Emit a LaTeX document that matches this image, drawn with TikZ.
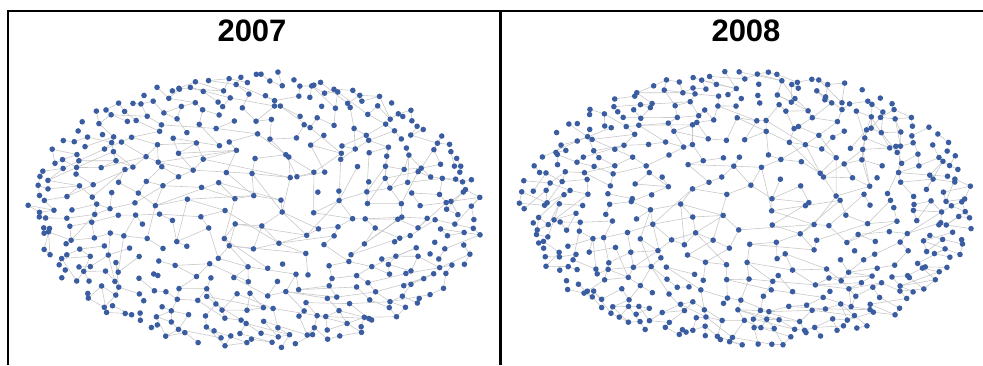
\documentclass[tikz,border=0pt]{standalone}
\usepackage{fontspec}
\setmainfont{Liberation Sans}
\definecolor{dotc}{RGB}{58,92,160}
\definecolor{edgec}{RGB}{200,200,200}
\tikzset{
  edge/.style={draw=edgec,line width=0.6pt},
  dot/.style={fill=dotc},
  frameline/.style={line width=2.2pt,draw=black},
  title/.style={font=\bfseries\fontsize{31}{32}\selectfont,anchor=base,inner sep=0pt}
}
\def\nrings{9}
\def\ringlistA{1/0.98/96,2/0.91/86,3/0.83/72,4/0.74/60,5/0.64/48,6/0.53/38,7/0.41/27,8/0.28/17,9/0.13/7}
\def\ringlistB{1/0.98/104,2/0.91/92,3/0.83/78,4/0.74/64,5/0.64/52,6/0.53/40,7/0.41/28,8/0.28/18,9/0.13/7}
\newcommand\drawnet[5]{%
  \pgfmathsetseed{#4}%
  % positions
  \foreach \j/\rad/\n in #5 {
    \pgfmathsetmacro\off{rnd*360}
    \pgfmathsetmacro\stp{360/\n}
    \expandafter\xdef\csname off#1\j\endcsname{\off}
    \expandafter\xdef\csname nn#1\j\endcsname{\n}
    \foreach \k in {1,...,\n} {
      \pgfmathsetmacro\ang{\off+(\k+0.9*(rnd-0.5))*\stp}
      \pgfmathsetmacro\rr{\rad+0.075*(rnd-0.5)}
      \coordinate (#1-\j-\k) at ({#2+225*\rr*cos(\ang)},{#3+137*\rr*sin(\ang)});
    }
  }
  % edges
  \foreach \j/\rad/\n in #5 {
    \edef\offj{\csname off#1\j\endcsname}
    \pgfmathsetmacro\stp{360/\n}
    \foreach \k in {1,...,\n} {
      \pgfmathtruncatemacro\kn{mod(\k,\n)+1}
      \pgfmathtruncatemacro\fa{rnd<0.45}
      \ifnum\fa=1 \draw[edge] (#1-\j-\k) -- (#1-\j-\kn); \fi
      \ifnum\j<\nrings
        \pgfmathtruncatemacro\jn{\j+1}
        \edef\offn{\csname off#1\jn\endcsname}
        \edef\nnn{\csname nn#1\jn\endcsname}
        \pgfmathsetmacro\tha{\offj+\k*\stp}
        \pgfmathtruncatemacro\m{Mod(round((\tha-\offn)/(360/\nnn))-1,\nnn)+1}
        \pgfmathtruncatemacro\mm{Mod(\m+1,\nnn)+1}
        \pgfmathtruncatemacro\fb{rnd<0.55}
        \ifnum\fb=1 \draw[edge] (#1-\j-\k) -- (#1-\jn-\m); \fi
        \pgfmathtruncatemacro\fc{rnd<0.3}
        \ifnum\fc=1 \draw[edge] (#1-\j-\k) -- (#1-\jn-\mm); \fi
      \fi
    }
  }
  % dots
  \foreach \j/\rad/\n in #5 {
    \foreach \k in {1,...,\n} {
      \fill[dot] (#1-\j-\k) circle (2.8pt);
    }
  }
}
\begin{document}
\begin{tikzpicture}[x=1pt,y=-1pt]
\useasboundingbox (0,0) rectangle (983,365);
% frame
\coordinate (fbl) at (8,365);
\coordinate (ftl) at (8,11);
\coordinate (ftr) at (983,11);
\coordinate (fmt) at (500.5,11);
\coordinate (fmb) at (500.5,365);
\draw[frameline] (fbl) -- (ftl) -- (ftr);
\draw[frameline] (fmt) -- (fmb);
% titles
\node[title] (t2007) at (252,41) {2007};
\node[title] (t2008) at (746,41) {2008};
% networks
\drawnet{A}{255}{210}{7}{\ringlistA}
\drawnet{B}{748}{208}{21}{\ringlistB}
\end{tikzpicture}
\end{document}
